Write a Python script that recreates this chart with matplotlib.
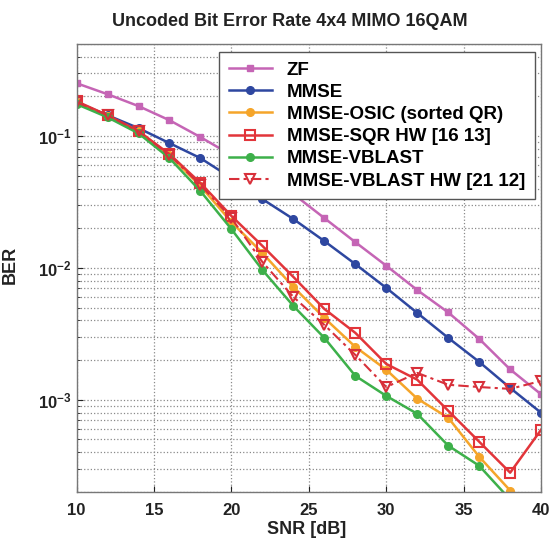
import numpy as np
import matplotlib
matplotlib.use("Agg")
import matplotlib.pyplot as plt
from matplotlib.ticker import LogLocator, NullFormatter

plt.rcParams['font.family'] = ['Liberation Sans', 'DejaVu Sans']
plt.rcParams['font.weight'] = 'bold'
plt.rcParams['mathtext.fontset'] = 'custom'
plt.rcParams['mathtext.rm'] = 'Liberation Sans:bold'
plt.rcParams['mathtext.bf'] = 'Liberation Sans:bold'
plt.rcParams['mathtext.it'] = 'Liberation Sans:bold'

snr = [10, 12, 14, 16, 18, 20, 22, 24, 26, 28, 30, 32, 34, 36, 38, 40]
nan = float('nan')
ber_zf = [0.252, 0.208, 0.169, 0.132, 0.0983, 0.0718, 0.0515, 0.0364, 0.0239, 0.0157,
          0.0104, 0.0068, 0.0046, 0.0029, 0.0017, 0.0011]
ber_mmse = [0.181, 0.144, 0.115, 0.0885, 0.0681, 0.0481, 0.0333, 0.0235, 0.0160, 0.0107,
            0.00706, 0.00456, 0.00295, 0.00194, 0.00123, 0.000797]
ber_osic = [0.181, 0.142, 0.109, 0.0718, 0.0418, 0.0223, 0.0130, 0.00718, 0.00418, 0.00252,
            0.00169, 0.00102, 0.000731, 0.000370, 0.000205, nan]
ber_sqr = [0.184, 0.144, 0.109, 0.0731, 0.0441, 0.0248, 0.0147, 0.00855, 0.00489, 0.00322,
           0.00187, 0.00142, 0.000826, 0.000481, 0.000280, 0.000593]
ber_vblast = [0.175, 0.139, 0.105, 0.0681, 0.0383, 0.0197, 0.00966, 0.00515, 0.00295, 0.00152,
              0.00107, 0.000783, 0.000449, 0.000316, 0.000175, nan]
ber_vblast_hw = [0.181, 0.144, 0.109, 0.0718, 0.0425, 0.0239, 0.0111, 0.00603, 0.00370, 0.00219,
                 0.00125, 0.00160, 0.00130, 0.00125, 0.00121, 0.00139]

labels = ['ZF', 'MMSE', 'MMSE-OSIC (sorted QR)', 'MMSE-SQR HW [16 13]',
          'MMSE-VBLAST', 'MMSE-VBLAST HW [21 12]']

fig = plt.figure(figsize=(5.55, 5.4), dpi=100)
ax = fig.add_axes([0.138, 0.089, 0.837, 0.8295])

lw = 1.8
ax.plot(snr, ber_zf, color='#C565B5', lw=lw, marker='s', ms=5, mfc='#C565B5', mec='#C565B5', label=labels[0])
ax.plot(snr, ber_mmse, color='#2E47A0', lw=lw, marker='o', ms=5.5, mfc='#2E47A0', mec='#2E47A0', label=labels[1])
ax.plot(snr, ber_osic, color='#F5A52A', lw=lw, marker='o', ms=5.5, mfc='#F5A52A', mec='#F5A52A', label=labels[2])
ax.plot(snr, ber_sqr, color='#E2353A', lw=lw, marker='s', ms=7, mfc='none', mec='#E2353A', mew=1.5, label=labels[3])
ax.plot(snr, ber_vblast, color='#3DB04A', lw=lw, marker='o', ms=5.5, mfc='#3DB04A', mec='#3DB04A', label=labels[4])
ax.plot(snr, ber_vblast_hw, color='#D8303A', lw=1.5, ls=(0, (5, 2, 1.5, 2)), marker='v', ms=7.5,
        mfc='none', mec='#D8303A', mew=1.5, label=labels[5])

ax.set_yscale('log')
ax.set_xlim(10, 40)
ax.set_ylim(2e-4, 0.5)
ax.set_xticks([10, 15, 20, 25, 30, 35, 40])
ax.yaxis.set_major_locator(LogLocator(base=10, numticks=10))
ax.yaxis.set_minor_locator(LogLocator(base=10, subs=np.arange(2, 10), numticks=10))
ax.yaxis.set_minor_formatter(NullFormatter())

ax.grid(True, which='major', ls=':', color='#8a8a8a', lw=0.9)
ax.grid(True, which='minor', axis='y', ls=':', color='#8a8a8a', lw=0.9)
ax.tick_params(which='both', direction='in', labelsize=12, colors='#222222')
ax.tick_params(axis='x', which='major', pad=8)
ax.tick_params(which='minor', length=2)
ax.tick_params(which='major', length=4)
for lab in ax.get_xticklabels() + ax.get_yticklabels():
    lab.set_fontweight('bold')
for s in ax.spines.values():
    s.set_color('#777777')
    s.set_linewidth(1.0)

ax.set_xlabel('SNR [dB]', fontsize=13, fontweight='bold', color='#222222')
ax.xaxis.set_label_coords(0.495, -0.064)
ax.set_ylabel('BER', fontsize=13, fontweight='bold', color='#222222')
ax.yaxis.set_label_coords(-0.125, 0.507)

fig.text(0.523, 0.96, 'Uncoded Bit Error Rate 4x4 MIMO 16QAM', ha='center', va='center',
         fontsize=13, fontweight='bold', color='#222222')

leg = ax.legend(loc='upper right', bbox_to_anchor=(0.986, 0.982), prop={'size': 13.5, 'weight': 'bold'},
                frameon=True, fancybox=False, framealpha=1, edgecolor='#555555',
                labelspacing=0.27, handlelength=2.3, handletextpad=0.8, borderpad=0.5,
                borderaxespad=0.0)
leg.get_frame().set_linewidth(1.0)

fig.savefig('out.png', dpi=100)
